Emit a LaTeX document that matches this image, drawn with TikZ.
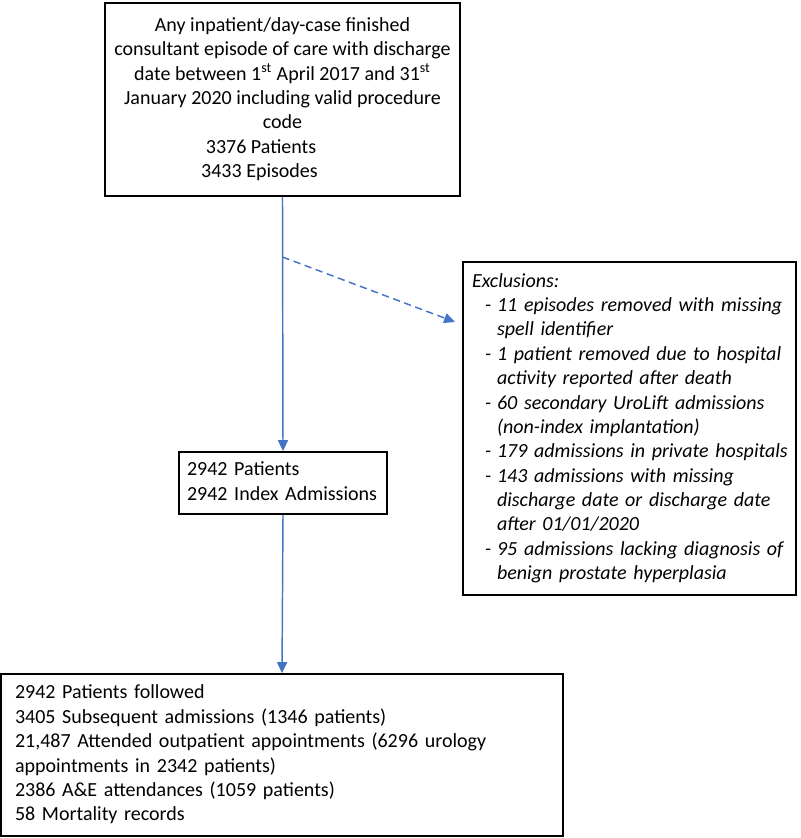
\documentclass[tikz,border=0pt]{standalone}
\usepackage{fontspec}
\setmainfont{Carlito}
\usepackage{tikz}
\usetikzlibrary{arrows.meta,positioning}
\setlength{\parindent}{0pt}
\definecolor{flowblue}{RGB}{68,114,196}
\tikzset{
    box/.style={
           rectangle,
           draw=black, line width=1pt,
           inner sep=0pt,
           font=\fontsize{11}{13.4}\selectfont,
           },
    flow/.style={
           draw=flowblue, line width=0.8pt,
           -{Triangle[length=6pt,width=5.5pt]},
           },
}
% dash and hanging indent of the exclusion list
\newcommand{\exitem}{\hspace*{7.2pt}\makebox[6.6pt][l]{-}}
\newcommand{\excont}{\hspace*{13.8pt}}

\begin{document}
\begin{tikzpicture}[x=0.55pt, y=-0.55pt]
 \useasboundingbox (0,0) rectangle (800,838);

 % Cohort selection
 % use tabular for content to get rows
 \node[box, minimum width=195.25pt, minimum height=106.15pt,
  align=center] (TOP) at (282.5,99.5)
  {\begin{tabular}{@{}c@{}}
   Any inpatient/day-case finished\\
   consultant episode of care with discharge\\
   date between 1\textsuperscript{st} April 2017 and 31\textsuperscript{st}\\
   January 2020 including valid procedure\\
   code\\
   3376 Patients\hspace*{23.6pt}\\
   3433 Episodes\hspace*{25.3pt}
  \end{tabular}};

 % Index admissions
 \node[box, text width=105.6pt, inner xsep=4.4pt, minimum height=34.1pt,
  align=left] (MID) at (283,483)
  {\begin{tabular}{@{}l@{}}
   2942 Patients\\
   2942 Index Admissions
  \end{tabular}};

 % Exclusions, italic
 \node[box, text width=173.25pt, inner xsep=4.95pt, minimum height=183.15pt,
  align=left, font=\fontsize{11}{13.4}\selectfont\itshape] (EXC) at (629.5,428.5)
  {\begin{tabular}{@{}l@{}}
   Exclusions:\\
   \exitem 11 episodes removed with missing\\
   \excont spell identifier\\
   \exitem 1 patient removed due to hospital\\
   \excont activity reported after death\\
   \exitem 60 secondary UroLift admissions\\
   \excont (non-index implantation)\\
   \exitem 179 admissions in private hospitals\\
   \exitem 143 admissions with missing\\
   \excont discharge date or discharge date\\
   \excont after 01/01/2020\\
   \exitem 95 admissions lacking diagnosis of\\
   \excont benign prostate hyperplasia
  \end{tabular}};

 % Follow-up
 \node[box, text width=293.7pt, inner xsep=7.7pt, minimum height=89.1pt,
  align=left] (BOT) at (282,755)
  {\begin{tabular}{@{}l@{}}
   2942 Patients followed\\
   3405 Subsequent admissions (1346 patients)\\
   21,487 Attended outpatient appointments (6296 urology\\
   appointments in 2342 patients)\\
   2386 A\&E attendances (1059 patients)\\
   58 Mortality records
  \end{tabular}};

 \coordinate (split) at (282.5,257);
 \coordinate (exin) at (455,322);

 \draw[flow] (TOP.south) -- (MID.north);
 \draw[flow] (MID.south) -- (BOT.north);
 \draw[flow, dash pattern=on 4pt off 2.5pt] (split) -- (exin);
\end{tikzpicture}
\end{document}
